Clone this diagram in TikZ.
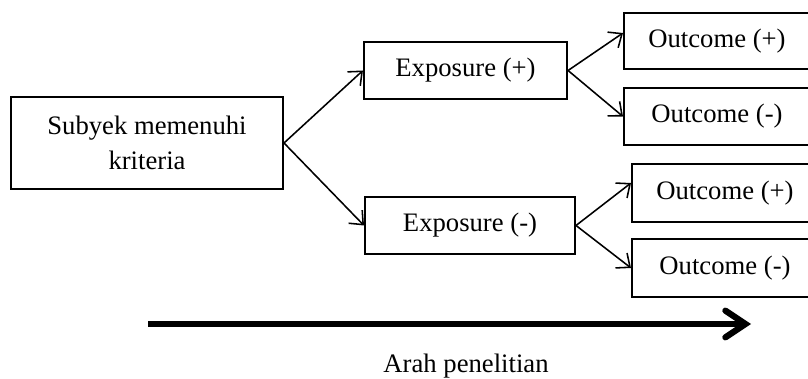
\documentclass[tikz,border=0pt]{standalone}
\usepackage{fontspec}
\setmainfont{Liberation Serif}
\usepackage{tikz}
\usetikzlibrary{arrows.meta}

\begin{document}
\begin{tikzpicture}[
  x=0.45pt,y=-0.45pt,
  blok/.style={draw,line width=0.9pt,inner sep=0pt,align=center,font=\fontsize{12}{16}\selectfont},
  lbl/.style={font=\fontsize{12}{16}\selectfont},
  arr/.style={-{Straight Barb[length=5pt,width=8.5pt]},line width=0.7pt},
  bigarr/.style={-{Straight Barb[length=9pt,width=12pt,line cap=round]},line width=2.8pt}
]
  \useasboundingbox (0,0) rectangle (808,379);

  % Subjects and exposure
  \node[blok,minimum width=122.4pt,minimum height=41.4pt] (subj) at (147,143) {Subyek memenuhi\\kriteria};
  \node[blok,minimum width=91.4pt,minimum height=25.7pt] (expP) at (465.5,70.5) {Exposure (+)};
  \node[blok,minimum width=94.5pt,minimum height=25.7pt] (expN) at (470,225.5) {Exposure (-)};

  % Outcomes
  \node[blok,minimum width=83.7pt,minimum height=25.2pt] (oPP) at (717,41) {Outcome (+)};
  \node[blok,minimum width=83.7pt,minimum height=25.7pt] (oPN) at (717,116.5) {Outcome (-)};
  \node[blok,minimum width=83.7pt,minimum height=26.1pt] (oNP) at (725,193) {Outcome (+)};
  \node[blok,minimum width=83.7pt,minimum height=26.1pt] (oNN) at (725,268) {Outcome (-)};

  % Arrows
  \draw[arr] (subj.east) -- (expP.west);
  \draw[arr] (subj.east) -- (expN.west);
  \draw[arr] (expP.east) -- ([yshift=3.6pt]oPP.west);
  \draw[arr] (expP.east) -- (oPN.west);
  \draw[arr] (expN.east) -- ([yshift=4.5pt]oNP.west);
  \draw[arr] (expN.east) -- (oNN.west);

  % Direction
  \coordinate (mulai) at (148,324);
  \coordinate (akhir) at (751,324);
  \draw[bigarr] (mulai) -- (akhir);
  \node[lbl] (arah) at (466,366) {Arah penelitian};
\end{tikzpicture}
\end{document}
